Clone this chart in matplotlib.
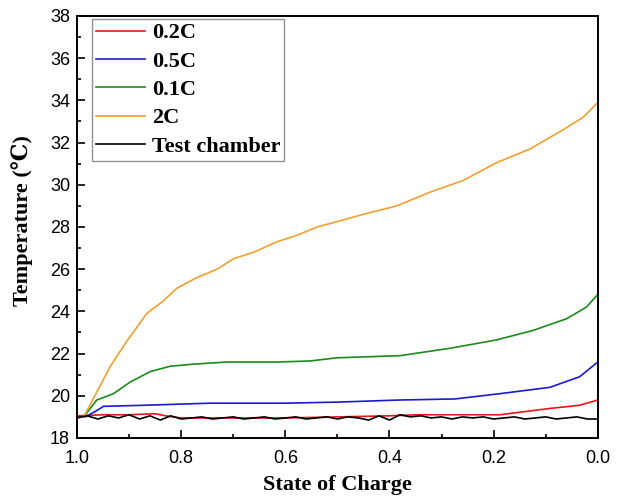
import matplotlib
matplotlib.use("Agg")
from matplotlib import pyplot as plt
from matplotlib.ticker import MultipleLocator

# state of charge (axis runs 1.0 -> 0.0)
soc_2c = [0.987, 0.936, 0.904, 0.866, 0.834, 0.808, 0.770, 0.731, 0.699, 0.661,
          0.616, 0.578, 0.539, 0.501, 0.450, 0.386, 0.322, 0.259, 0.194, 0.130,
          0.067, 0.028, 0.0]
t_2c = [19.0, 21.4, 22.6, 23.9, 24.5, 25.1, 25.6, 26.0, 26.5, 26.8,
        27.3, 27.6, 28.0, 28.25, 28.6, 29.0, 29.65, 30.2, 31.05, 31.7,
        32.6, 33.2, 33.9]

soc_01c = [0.984, 0.962, 0.930, 0.898, 0.859, 0.821, 0.776, 0.712, 0.616, 0.552,
           0.501, 0.380, 0.284, 0.194, 0.124, 0.060, 0.022, 0.0]
t_01c = [19.1, 19.8, 20.1, 20.65, 21.15, 21.4, 21.5, 21.6, 21.6, 21.65,
         21.8, 21.9, 22.25, 22.65, 23.1, 23.65, 24.2, 24.8]

soc_05c = [0.984, 0.962, 0.949, 0.872, 0.744, 0.600, 0.500, 0.380, 0.274, 0.188,
           0.092, 0.035, 0.0]
t_05c = [19.0, 19.3, 19.5, 19.55, 19.65, 19.65, 19.7, 19.8, 19.85, 20.1,
         20.4, 20.9, 21.6]

soc_02c = [1.0, 0.95, 0.90, 0.85, 0.83, 0.80, 0.70, 0.60, 0.50, 0.40,
           0.35, 0.30, 0.25, 0.188, 0.14, 0.092, 0.035, 0.0]
t_02c = [19.05, 19.1, 19.1, 19.15, 19.05, 18.95, 18.95, 18.95, 19.0, 19.05,
         19.1, 19.1, 19.1, 19.1, 19.25, 19.4, 19.55, 19.8]

soc_ch = [1.0, 0.98, 0.96, 0.94, 0.92, 0.90, 0.88, 0.86, 0.84, 0.82,
          0.80, 0.78, 0.76, 0.74, 0.72, 0.70, 0.68, 0.66, 0.64, 0.62,
          0.60, 0.58, 0.56, 0.54, 0.52, 0.50, 0.48, 0.46, 0.44, 0.42,
          0.40, 0.38, 0.36, 0.34, 0.32, 0.30, 0.28, 0.26, 0.24, 0.22,
          0.20, 0.18, 0.16, 0.14, 0.12, 0.10, 0.08, 0.06, 0.04, 0.02, 0.0]
t_ch = [18.95, 19.05, 18.9, 19.05, 18.95, 19.1, 18.9, 19.05, 18.85, 19.05,
        18.9, 18.95, 19.0, 18.9, 18.95, 19.0, 18.9, 18.95, 19.0, 18.9,
        18.95, 19.0, 18.9, 18.95, 19.0, 18.9, 19.0, 18.95, 18.85, 19.05,
        18.85, 19.1, 19.0, 19.05, 18.95, 19.0, 18.9, 19.0, 18.95, 19.0,
        18.9, 18.95, 19.0, 18.9, 18.95, 19.0, 18.9, 18.95, 19.0, 18.9, 18.9]

fig = plt.figure(figsize=(6.24, 4.98), dpi=100)
ax = fig.add_axes([0.1234, 0.1205, 0.8346, 0.8475])

lw = 1.2
ax.plot(soc_02c, t_02c, color="#e8141b", lw=lw, label="0.2C")
ax.plot(soc_05c, t_05c, color="#1a1ad0", lw=lw, label="0.5C")
ax.plot(soc_01c, t_01c, color="#1c8a1c", lw=lw, label="0.1C")
ax.plot(soc_2c, t_2c, color="#f0a030", lw=lw, label="2C")
ax.plot(soc_ch, t_ch, color="black", lw=lw, label="Test chamber")

ax.set_xlim(1.0, 0.0)
ax.set_ylim(18, 38)
ax.xaxis.set_major_locator(MultipleLocator(0.2))
ax.xaxis.set_minor_locator(MultipleLocator(0.1))
ax.yaxis.set_major_locator(MultipleLocator(2))
ax.yaxis.set_minor_locator(MultipleLocator(1))
ax.tick_params(which="both", direction="in", top=False, right=False,
               labelsize=13, width=1.2)
ax.tick_params(which="major", length=6)
ax.tick_params(which="minor", length=3)
ax.tick_params(axis="x", which="both", pad=9)
ax.tick_params(axis="y", which="both", pad=5)
for lab in ax.get_xticklabels() + ax.get_yticklabels():
    lab.set_family("Liberation Sans")
for s in ax.spines.values():
    s.set_linewidth(1.4)

serif_fams = ["Liberation Serif", "DejaVu Serif", "DejaVu Sans"]
serif = {"family": serif_fams, "weight": "bold", "size": 16}
ax.set_xlabel("State of Charge", fontdict=serif)
ax.set_ylabel("Temperature (\u2103)", fontdict=serif)
ax.xaxis.set_label_coords(0.5, -0.088)
ax.yaxis.set_label_coords(-0.085, 0.515)

leg = ax.legend(loc="upper left", bbox_to_anchor=(0.029, 0.993),
                borderaxespad=0, prop={"family": serif_fams, "weight": "bold", "size": 16},
                frameon=True, fancybox=False, edgecolor="#777777",
                handlelength=2.2, labelspacing=0.35, handletextpad=0.3,
                borderpad=0.18)
leg.get_frame().set_linewidth(1.0)

fig.savefig("out.png", dpi=100)
